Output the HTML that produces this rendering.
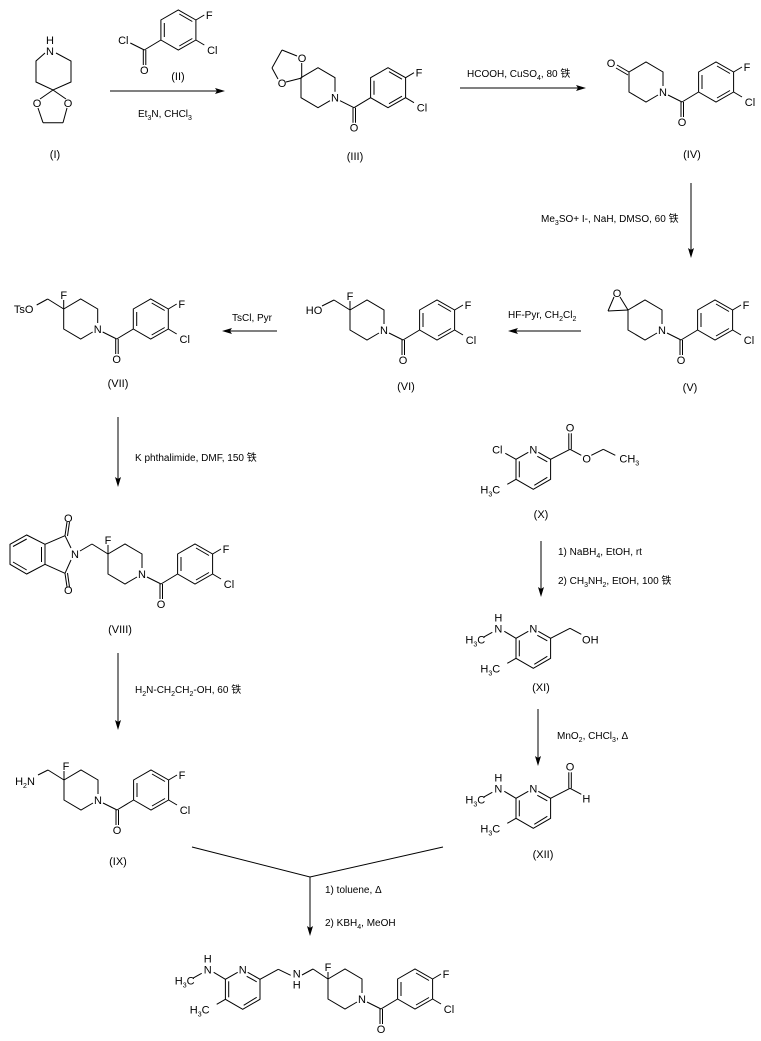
<!DOCTYPE html>
<html><head><meta charset="utf-8"><style>
html,body{margin:0;padding:0;background:#fff;}
svg{display:block;}
text{font-family:"Liberation Sans","Noto Sans CJK SC",sans-serif;fill:#000;}
.a{font-size:11px;text-anchor:middle;}
.r{font-size:10px;}
.l{font-size:11px;text-anchor:middle;}
line,polyline,polygon.s{stroke:#000;stroke-width:1;fill:none;}
.ah{fill:#000;stroke:none;}
</style></head><body>
<svg width="761" height="1041" viewBox="0 0 761 1041" xmlns="http://www.w3.org/2000/svg">
<defs>
<g id="pip" stroke="#000" fill="none">
<polyline points="0,-6 0,-20 -17,-30 -34,-20 -34,0 -17,10 -5,3"/>
</g>
<g id="aryl" stroke="#000" fill="none">
<line x1="5" y1="3" x2="19" y2="10"/>
<line x1="18" y1="10" x2="18" y2="25"/><line x1="20.5" y1="10" x2="20.5" y2="25"/>
<line x1="19" y1="10" x2="35.6" y2="0"/>
<polygon points="35.6,0 35.6,-20 53,-30 70.6,-20 70.6,0 53,10"/>
<line x1="39" y1="-3" x2="39" y2="-17"/>
<line x1="54" y1="-26" x2="67" y2="-18.5"/>
<line x1="67" y1="-1.5" x2="54" y2="6"/>
<line x1="70.6" y1="-20" x2="79" y2="-25"/>
<line x1="70.6" y1="0" x2="79" y2="5"/>
</g>
<g id="pyr" stroke="#000" fill="none">
<polyline points="5,3 17.3,10 17.3,30 0,40 -17.3,30 -17.3,10 -5,3"/>
<line x1="4" y1="7" x2="14" y2="12.5"/>
<line x1="14" y1="28" x2="1" y2="36"/>
<line x1="-14" y1="12" x2="-14" y2="28"/>
<line x1="-17.3" y1="30" x2="-26" y2="35"/>
</g>
</defs>

<!-- (I) -->
<g stroke="#000" fill="none">
<polyline points="45,53 36,61 36,82 53,90 71,82 71,61 56,53"/>
<line x1="53" y1="90" x2="40" y2="99"/><line x1="38" y1="108" x2="43" y2="122.7"/>
<line x1="43" y1="122.7" x2="63" y2="122.7"/><line x1="63" y1="122.7" x2="67" y2="108"/>
<line x1="66" y1="99" x2="53" y2="90"/>
</g>
<text class="a" x="50" y="44">H</text><text class="a" x="50" y="55">N</text>
<text class="a" x="37" y="107">O</text><text class="a" x="68" y="107">O</text>
<text class="l" x="55" y="158">(I)</text>

<!-- (II) -->
<g transform="translate(125.3,40)">
<use href="#aryl"/>
<text class="a" x="-2" y="4">Cl</text><text class="a" x="19" y="34">O</text>
<text class="a" x="84" y="-21">F</text><text class="a" x="87" y="14">Cl</text>
</g>
<text class="l" x="178" y="80">(II)</text>

<!-- arrow 1 -->
<line x1="110" y1="91" x2="222" y2="91"/><polygon class="ah" points="225,91 215,88 217,91 215,94"/>
<text class="r" x="138" y="117">Et<tspan font-size="7" dy="3">3</tspan><tspan dy="-3">N, CHCl</tspan><tspan font-size="7" dy="3">3</tspan></text>

<!-- (III) -->
<g transform="translate(335,97.7)">
<use href="#pip"/><use href="#aryl"/>
<text class="a" x="0" y="4">N</text><text class="a" x="19" y="34">O</text>
<text class="a" x="84" y="-21">F</text><text class="a" x="87" y="14">Cl</text>
</g>
<g stroke="#000" fill="none">
<line x1="301.7" y1="78" x2="301.7" y2="63"/><line x1="297" y1="56" x2="282" y2="50"/>
<line x1="282" y1="50" x2="272" y2="68"/><line x1="272" y1="68" x2="278" y2="79"/>
<line x1="286" y1="82" x2="301.7" y2="78"/>
</g>
<text class="a" x="302" y="62">O</text><text class="a" x="282" y="87">O</text>
<text class="l" x="355" y="160">(III)</text>

<!-- arrow 2 -->
<line x1="460" y1="88" x2="582" y2="88"/><polygon class="ah" points="586,88 576,85 578,88 576,91"/>
<text class="r" x="467" y="77">HCOOH, CuSO<tspan font-size="7" dy="3">4</tspan><tspan dy="-3">, 80 铁</tspan></text>

<!-- (IV) -->
<g transform="translate(663,92)">
<use href="#pip"/><use href="#aryl"/>
<text class="a" x="0" y="4">N</text><text class="a" x="19" y="34">O</text>
<text class="a" x="84" y="-21">F</text><text class="a" x="87" y="14">Cl</text>
</g>
<line x1="629" y1="72" x2="617" y2="65"/><line x1="628" y1="75" x2="616" y2="68"/>
<text class="a" x="611" y="67">O</text>
<text class="l" x="692" y="158">(IV)</text>

<!-- arrow 3 -->
<line x1="691" y1="183" x2="691" y2="254"/><polygon class="ah" points="691,258 688,248 691,250 694,248"/>
<text class="r" x="541" y="222">Me<tspan font-size="7" dy="3">3</tspan><tspan dy="-3">SO+ I-, NaH, DMSO, 60 铁</tspan></text>

<!-- (V) -->
<g transform="translate(662,330)">
<use href="#pip"/><use href="#aryl"/>
<text class="a" x="0" y="4">N</text><text class="a" x="19" y="34">O</text>
<text class="a" x="84" y="-21">F</text><text class="a" x="87" y="14">Cl</text>
</g>
<line x1="628" y1="310" x2="620" y2="297"/><line x1="614" y1="297" x2="608" y2="311"/><line x1="608" y1="311" x2="628" y2="310"/>
<text class="a" x="617" y="297">O</text>
<text class="l" x="690" y="391">(V)</text>

<!-- arrow 4 -->
<line x1="581" y1="331" x2="511" y2="331"/><polygon class="ah" points="508,331 518,328 516,331 518,334"/>
<text class="r" x="508" y="318">HF-Pyr, CH<tspan font-size="7" dy="3">2</tspan><tspan dy="-3">Cl</tspan><tspan font-size="7" dy="3">2</tspan></text>

<!-- (VI) -->
<g transform="translate(384,330)">
<use href="#pip"/><use href="#aryl"/>
<text class="a" x="0" y="4">N</text><text class="a" x="19" y="34">O</text>
<text class="a" x="84" y="-21">F</text><text class="a" x="87" y="14">Cl</text>
<line x1="-34" y1="-20" x2="-34" y2="-29"/>
<text class="a" x="-34" y="-30">F</text>
<line x1="-34" y1="-20" x2="-50" y2="-30"/><line x1="-50" y1="-30" x2="-62" y2="-24"/>
<text class="a" x="-70" y="-16">HO</text>
</g>
<text class="l" x="406" y="390">(VI)</text>

<!-- arrow 5 -->
<line x1="277" y1="331" x2="225" y2="331"/><polygon class="ah" points="222,331 232,328 230,331 232,334"/>
<text class="r" x="232" y="321">TsCl, Pyr</text>

<!-- (VII) -->
<g transform="translate(97.7,329)">
<use href="#pip"/><use href="#aryl"/>
<text class="a" x="0" y="4">N</text><text class="a" x="19" y="34">O</text>
<text class="a" x="84" y="-21">F</text><text class="a" x="87" y="14">Cl</text>
<line x1="-34" y1="-20" x2="-34" y2="-29"/>
<text class="a" x="-34" y="-30">F</text>
<line x1="-34" y1="-20" x2="-50" y2="-30"/><line x1="-50" y1="-30" x2="-61" y2="-24"/>
<text class="a" x="-74" y="-16">TsO</text>
</g>
<text class="l" x="118" y="387">(VII)</text>

<!-- arrow 6 -->
<line x1="118" y1="417" x2="118" y2="483"/><polygon class="ah" points="118,487 115,477 118,479 121,477"/>
<text class="r" x="135" y="461">K phthalimide, DMF, 150 铁</text>

<!-- (VIII) -->
<g transform="translate(142,574)">
<use href="#pip"/><use href="#aryl"/>
<text class="a" x="0" y="4">N</text><text class="a" x="19" y="34">O</text>
<text class="a" x="84" y="-21">F</text><text class="a" x="87" y="14">Cl</text>
<line x1="-34" y1="-20" x2="-34" y2="-29"/>
<text class="a" x="-34" y="-30">F</text>
<line x1="-34" y1="-20" x2="-50" y2="-30"/><line x1="-50" y1="-30" x2="-62" y2="-23"/>
</g>
<g stroke="#000" fill="none">
<polygon points="45,544.3 26.7,535 10,544.3 10,564.3 26.7,574 45,564.3"/>
<line x1="41.5" y1="547" x2="41.5" y2="562"/><line x1="26.7" y1="539" x2="13" y2="546.5"/><line x1="13" y1="562" x2="26.7" y2="570"/>
<line x1="45" y1="544.3" x2="65" y2="535.7"/><line x1="65" y1="535.7" x2="71" y2="548"/>
<line x1="71" y1="560" x2="65" y2="573.3"/><line x1="65" y1="573.3" x2="45" y2="564.3"/>
<line x1="65" y1="535.7" x2="67" y2="522"/><line x1="67.5" y1="536" x2="69.5" y2="522"/>
<line x1="65" y1="573.3" x2="67" y2="587"/><line x1="67.5" y1="573" x2="69.5" y2="587"/>
</g>
<text class="a" x="75" y="558">N</text>
<text class="a" x="68.3" y="522">O</text><text class="a" x="68.3" y="594">O</text>
<text class="l" x="120" y="633">(VIII)</text>

<!-- arrow 7 -->
<line x1="118" y1="653" x2="118" y2="726"/><polygon class="ah" points="118,730 115,720 118,722 121,720"/>
<text class="r" x="135" y="693">H<tspan font-size="7" dy="3">2</tspan><tspan dy="-3">N-CH</tspan><tspan font-size="7" dy="3">2</tspan><tspan dy="-3">CH</tspan><tspan font-size="7" dy="3">2</tspan><tspan dy="-3">-OH, 60 铁</tspan></text>

<!-- (IX) -->
<g transform="translate(98,800)">
<use href="#pip"/><use href="#aryl"/>
<text class="a" x="0" y="4">N</text><text class="a" x="19" y="34">O</text>
<text class="a" x="84" y="-21">F</text><text class="a" x="87" y="14">Cl</text>
<line x1="-34" y1="-20" x2="-34" y2="-29"/>
<text class="a" x="-32" y="-30">F</text>
<line x1="-34" y1="-20" x2="-50" y2="-30"/><line x1="-50" y1="-30" x2="-60" y2="-25"/>
<text class="a" x="-73" y="-15">H<tspan font-size="7" dy="3">2</tspan><tspan dy="-3">N</tspan></text>
</g>
<text class="l" x="118" y="865">(IX)</text>

<!-- (X) -->
<g transform="translate(533.3,449.3)">
<use href="#pyr"/>
<text class="a" x="0" y="4">N</text>
<line x1="-17.3" y1="10" x2="-28" y2="4"/>
<text class="a" x="-36" y="4">Cl</text>
<text class="a" x="-43" y="44">H<tspan font-size="7" dy="3">3</tspan><tspan dy="-3">C</tspan></text>
<line x1="17.3" y1="10" x2="36.7" y2="0"/>
<line x1="35.5" y1="0" x2="35.5" y2="-16"/><line x1="38" y1="0" x2="38" y2="-16"/>
<text class="a" x="36.7" y="-18">O</text>
<line x1="36.7" y1="0" x2="48" y2="6"/>
<text class="a" x="53.4" y="13">O</text>
<line x1="58" y1="6" x2="70" y2="0"/><line x1="70" y1="0" x2="82" y2="6"/>
<text class="a" x="96" y="13">CH<tspan font-size="7" dy="3">3</tspan></text>
</g>
<text class="l" x="541" y="518">(X)</text>

<!-- arrow 8 -->
<line x1="541" y1="541" x2="541" y2="593"/><polygon class="ah" points="541,597 538,587 541,589 544,587"/>
<text class="r" x="558" y="555">1) NaBH<tspan font-size="7" dy="3">4</tspan><tspan dy="-3">, EtOH, rt</tspan></text>
<text class="r" x="558" y="584">2) CH<tspan font-size="7" dy="3">3</tspan><tspan dy="-3">NH</tspan><tspan font-size="7" dy="3">2</tspan><tspan dy="-3">, EtOH, 100 铁</tspan></text>

<!-- (XI) -->
<g transform="translate(533.3,628.3)">
<use href="#pyr"/>
<text class="a" x="0" y="4">N</text>
<line x1="-17.3" y1="10" x2="-29" y2="3"/>
<text class="a" x="-35" y="-7">H</text><text class="a" x="-35" y="4">N</text>
<line x1="-41" y1="4" x2="-50" y2="9"/>
<text class="a" x="-58" y="15">H<tspan font-size="7" dy="3">3</tspan><tspan dy="-3">C</tspan></text>
<text class="a" x="-43" y="44">H<tspan font-size="7" dy="3">3</tspan><tspan dy="-3">C</tspan></text>
<line x1="17.3" y1="10" x2="36.7" y2="0"/><line x1="36.7" y1="0" x2="48" y2="6"/>
<text class="a" x="57" y="15">OH</text>
</g>
<text class="l" x="541" y="691">(XI)</text>

<!-- arrow 9 -->
<line x1="538" y1="709" x2="538" y2="762"/><polygon class="ah" points="538,766 535,756 538,758 541,756"/>
<text class="r" x="557" y="739">MnO<tspan font-size="7" dy="3">2</tspan><tspan dy="-3">, CHCl</tspan><tspan font-size="7" dy="3">3</tspan><tspan dy="-3">, Δ</tspan></text>

<!-- (XII) -->
<g transform="translate(533.3,788.3)">
<use href="#pyr"/>
<text class="a" x="0" y="4">N</text>
<line x1="-17.3" y1="10" x2="-29" y2="3"/>
<text class="a" x="-35" y="-7">H</text><text class="a" x="-35" y="4">N</text>
<line x1="-41" y1="4" x2="-50" y2="9"/>
<text class="a" x="-58" y="15">H<tspan font-size="7" dy="3">3</tspan><tspan dy="-3">C</tspan></text>
<text class="a" x="-43" y="44">H<tspan font-size="7" dy="3">3</tspan><tspan dy="-3">C</tspan></text>
<line x1="17.3" y1="10" x2="36.7" y2="0"/>
<line x1="35.5" y1="0" x2="35.5" y2="-16"/><line x1="38" y1="0" x2="38" y2="-16"/>
<text class="a" x="36.7" y="-18">O</text>
<line x1="36.7" y1="0" x2="48" y2="6"/>
<text class="a" x="53" y="14">H</text>
</g>
<text class="l" x="543" y="858">(XII)</text>

<!-- convergence arrow -->
<polyline points="192,847 310,877 443,847" stroke="#000" fill="none"/>
<line x1="310" y1="877" x2="310" y2="932"/><polygon class="ah" points="310,936 307,926 310,928 313,926"/>
<text class="r" x="325" y="893">1) toluene, Δ</text>
<text class="r" x="325" y="926">2) KBH<tspan font-size="7" dy="3">4</tspan><tspan dy="-3">, MeOH</tspan></text>

<!-- final product -->
<g transform="translate(362,999)">
<use href="#pip"/><use href="#aryl"/>
<text class="a" x="0" y="4">N</text><text class="a" x="19" y="34">O</text>
<text class="a" x="84" y="-21">F</text><text class="a" x="87" y="14">Cl</text>
<line x1="-34" y1="-20" x2="-34" y2="-27"/>
<text class="a" x="-34" y="-28">F</text>
<line x1="-34" y1="-20" x2="-49" y2="-30"/><line x1="-49" y1="-30" x2="-60" y2="-24"/>
</g>
<g transform="translate(242.7,969.3)">
<use href="#pyr"/>
<text class="a" x="0" y="4">N</text>
<line x1="17.3" y1="10" x2="35.6" y2="0"/><line x1="35.6" y1="0" x2="48" y2="6"/>
<text class="a" x="54" y="8">N</text><text class="a" x="54" y="19">H</text>
<line x1="-17.3" y1="10" x2="-29" y2="3"/>
<text class="a" x="-35" y="-7">H</text><text class="a" x="-35" y="4">N</text>
<line x1="-41" y1="4" x2="-50" y2="9"/>
<text class="a" x="-58" y="15">H<tspan font-size="7" dy="3">3</tspan><tspan dy="-3">C</tspan></text>
<text class="a" x="-43" y="44">H<tspan font-size="7" dy="3">3</tspan><tspan dy="-3">C</tspan></text>
</g>
</svg>
</body></html>
